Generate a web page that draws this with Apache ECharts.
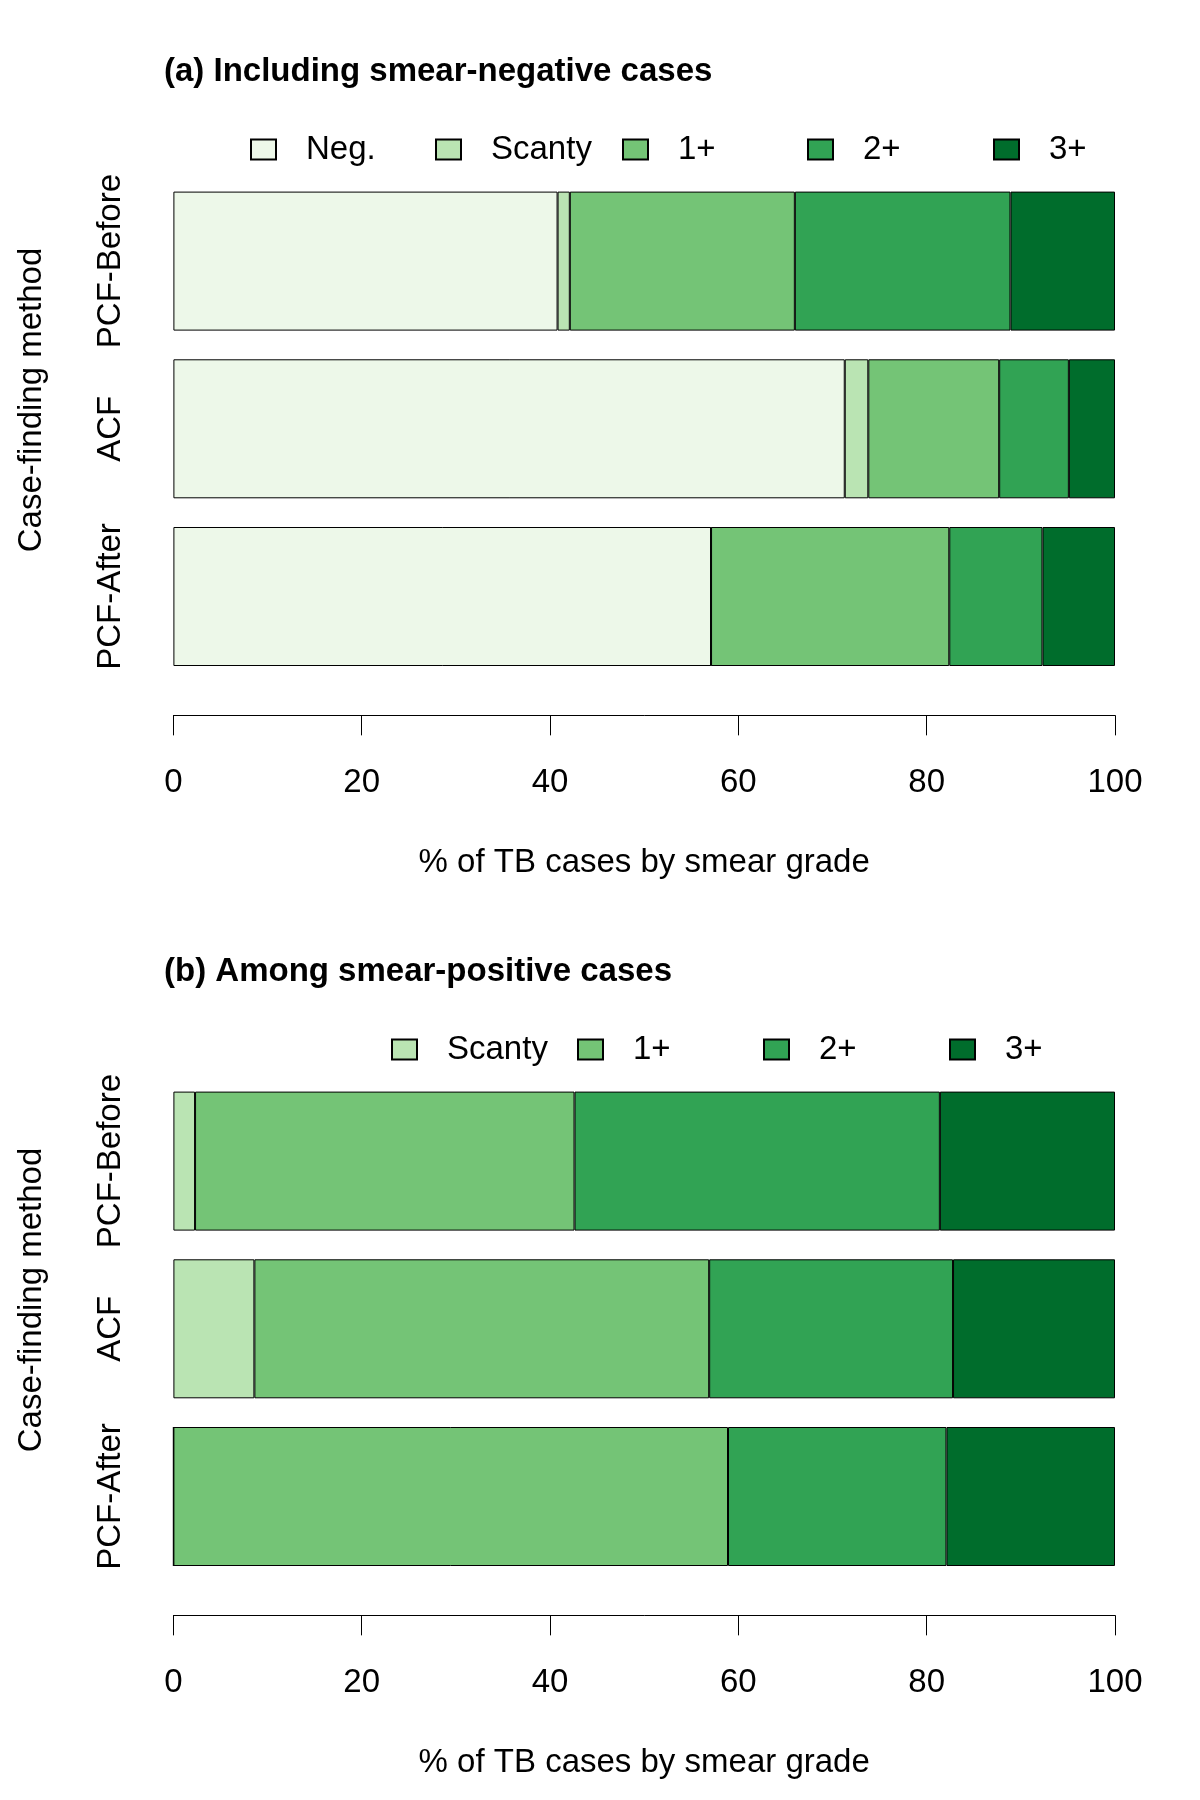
<!DOCTYPE html>
<html>
<head>
<meta charset="utf-8">
<script src="https://cdn.jsdelivr.net/npm/echarts@6/dist/echarts.min.js"></script>
<style>
  html, body { margin: 0; padding: 0; background: #fff; }
  #chart { width: 1200px; height: 1800px; }
</style>
</head>
<body>
<div id="chart"></div>
<script>
// case-finding methods, top to bottom
const methods = ['PCF-Before', 'ACF', 'PCF-After']
const xTicks = [0, 20, 40, 60, 80, 100]

// (a) including smear-negative cases, % of all TB cases
const negA = [40.8, 71.3, 57.1]
const scantyA = [1.3, 2.5, 0]
const onePlusA = [23.9, 13.9, 25.3]
const twoPlusA = [22.9, 7.4, 9.9]
const threePlusA = [11.1, 4.9, 7.7]

// (b) among smear-positive cases, %
const scantyB = [2.3, 8.6, 0]
const onePlusB = [40.3, 48.3, 58.9]
const twoPlusB = [38.8, 25.9, 23.2]
const threePlusB = [18.6, 17.2, 17.9]

const gradesA = ['Neg.', 'Scanty', '1+', '2+', '3+']
const gradesB = ['Scanty', '1+', '2+', '3+']

const colors = {
  'Neg.': '#edf8e9',
  'Scanty': '#bae4b3',
  '1+': '#74c476',
  '2+': '#31a354',
  '3+': '#006d2c'
}

const font = 'Liberation Sans, Arial, Helvetica, sans-serif'
const fs = 33

const myChart = echarts.init(document.getElementById('chart'), null, { renderer: 'canvas' })

function barSeries(name, data, idx, stack) {
  return {
    name: name,
    type: 'bar',
    stack: stack,
    xAxisIndex: idx,
    yAxisIndex: idx,
    barWidth: 139,
    data: data,
    itemStyle: {
      color: colors[name],
      borderColor: '#000',
      borderWidth: 1
    },
    emphasis: { disabled: true },
    animation: false
  }
}

function xAxisFor(idx) {
  return {
    type: 'value',
    gridIndex: idx,
    min: 0,
    max: 100,
    interval: 20,
    offset: 35,
    position: 'bottom',
    name: '% of TB cases by smear grade',
    nameLocation: 'middle',
    nameGap: 131,
    nameTextStyle: { color: '#000', fontSize: fs, fontFamily: font },
    axisLine: { show: true, lineStyle: { color: '#000', width: 1 } },
    axisTick: { show: true, length: 20, inside: false, lineStyle: { color: '#000', width: 1 } },
    axisLabel: {
      color: '#000', fontSize: fs, fontFamily: font, margin: 51,
      formatter: (v) => xTicks.indexOf(v) >= 0 ? String(v) : ''
    },
    splitLine: { show: false }
  }
}

function yAxisFor(idx) {
  return {
    type: 'category',
    gridIndex: idx,
    data: methods,
    inverse: true,
    axisLine: { show: false },
    axisTick: { show: false },
    axisLabel: {
      interval: 0,
      rotate: 90,
      margin: 46,
      color: '#000',
      fontSize: fs,
      fontFamily: font
    },
    splitLine: { show: false }
  }
}

function legendItem(name, left, top) {
  return {
    data: [name],
    left: left,
    top: top,
    padding: 0,
    itemWidth: 25,
    itemHeight: 20,
    icon: 'rect',
    selectedMode: false,
    textStyle: { color: '#000', fontSize: fs, fontFamily: font, padding: [0, 0, 0, 25] }
  }
}

const legendLeftA = [250, 435, 622, 807, 993]
const legendLeftB = [391, 577, 763, 949]

const legends = []
gradesA.forEach((g, i) => legends.push(legendItem(g, legendLeftA[i], 133)))
gradesB.forEach((g, i) => legends.push(legendItem(g, legendLeftB[i], 1033)))

const option = {
  animation: false,
  backgroundColor: '#fff',
  textStyle: { fontFamily: font },
  title: [
    {
      text: '(a) Including smear-negative cases',
      left: 164, top: 55, padding: 0,
      textStyle: { color: '#000', fontSize: fs, fontWeight: 'bold', fontFamily: font }
    },
    {
      text: '(b) Among smear-positive cases',
      left: 164, top: 955, padding: 0,
      textStyle: { color: '#000', fontSize: fs, fontWeight: 'bold', fontFamily: font }
    }
  ],
  legend: legends,
  grid: [
    { left: 173.4, right: 85, top: 177.25, height: 503.1, containLabel: false },
    { left: 173.4, right: 85, top: 1077.25, height: 503.1, containLabel: false }
  ],
  xAxis: [xAxisFor(0), xAxisFor(1)],
  yAxis: [yAxisFor(0), yAxisFor(1)],
  graphic: [
    {
      type: 'text', x: 32, y: 400, rotation: Math.PI / 2,
      style: { text: 'Case-finding method', fill: '#000', fontSize: fs, fontFamily: font, textAlign: 'center', textVerticalAlign: 'middle' }
    },
    {
      type: 'text', x: 32, y: 1300, rotation: Math.PI / 2,
      style: { text: 'Case-finding method', fill: '#000', fontSize: fs, fontFamily: font, textAlign: 'center', textVerticalAlign: 'middle' }
    }
  ],
  series: [
    barSeries('Neg.', negA, 0, 'a'),
    barSeries('Scanty', scantyA, 0, 'a'),
    barSeries('1+', onePlusA, 0, 'a'),
    barSeries('2+', twoPlusA, 0, 'a'),
    barSeries('3+', threePlusA, 0, 'a'),
    barSeries('Scanty', scantyB, 1, 'b'),
    barSeries('1+', onePlusB, 1, 'b'),
    barSeries('2+', twoPlusB, 1, 'b'),
    barSeries('3+', threePlusB, 1, 'b')
  ]
}

myChart.setOption(option)
</script>
</body>
</html>
